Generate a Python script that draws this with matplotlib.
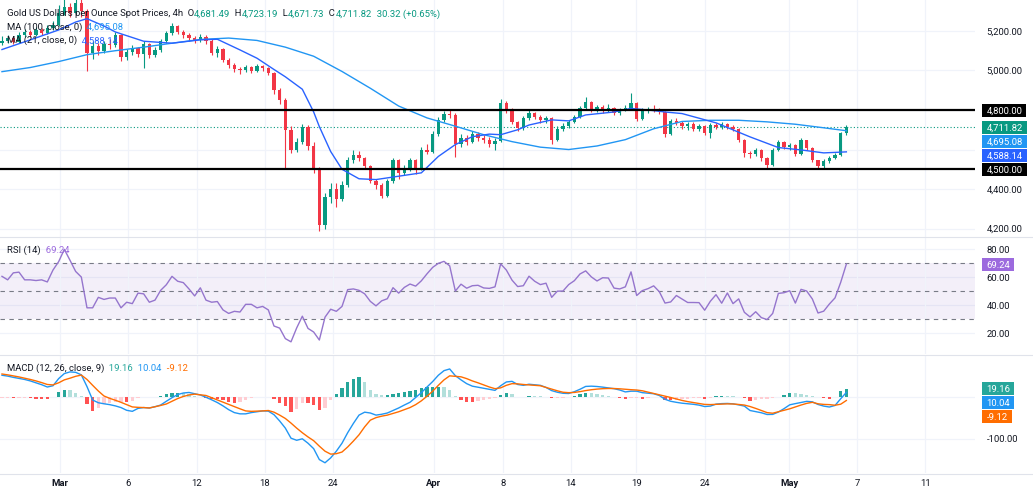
import numpy as np
import matplotlib
matplotlib.use("Agg")
import matplotlib.pyplot as plt
import matplotlib.transforms as mtransforms
from matplotlib.patches import Rectangle
from matplotlib.lines import Line2D

plt.rcParams['font.family'] = ['Roboto', 'DejaVu Sans']

# ---------------- data ----------------
first_open = 5140
close = [5150, 5165, 5145, 5180, 5195, 5180, 5205, 5190, 5215, 5230,
         5290, 5320, 5290, 5340, 5300, 5090, 5125, 5100, 5135, 5130,
         5180, 5070, 5095, 5115, 5085, 5135, 5080, 5105, 5150, 5190,
         5225, 5195, 5180, 5165, 5155, 5170, 5150, 5090, 5110, 5055,
         5030, 5005, 5000, 5020, 4995, 5025, 5010, 4985, 4900, 4850,
         4700, 4600, 4640, 4715, 4620, 4500, 4220, 4360, 4400, 4350,
         4420, 4545, 4570, 4555, 4515, 4440, 4420, 4365, 4440, 4545,
         4480, 4500, 4545, 4500, 4600, 4590, 4680, 4750, 4780, 4775,
         4630, 4660, 4640, 4680, 4660, 4650, 4630, 4645, 4835, 4800,
         4740, 4710, 4760, 4785, 4765, 4750, 4760, 4650, 4705, 4720,
         4740, 4765, 4810, 4840, 4800, 4815, 4795, 4810, 4785, 4800,
         4810, 4835, 4755, 4795, 4805, 4800, 4790, 4680, 4745, 4735,
         4720, 4730, 4705, 4720, 4685, 4725, 4715, 4730, 4715, 4705,
         4650, 4580, 4575, 4600, 4555, 4520, 4600, 4640, 4615, 4625,
         4575, 4650, 4610, 4545, 4515, 4540, 4555, 4570, 4681.49, 4711.82]
high = [5175, 5180, 5170, 5195, 5210, 5205, 5220, 5215, 5230, 5250,
        5330, 5370, 5340, 5380, 5360, 5310, 5150, 5140, 5150, 5160,
        5195, 5185, 5110, 5130, 5120, 5150, 5140, 5120, 5160, 5200,
        5240, 5230, 5205, 5190, 5175, 5185, 5180, 5160, 5125, 5115,
        5065, 5040, 5020, 5030, 5025, 5035, 5030, 5020, 4990, 4910,
        4860, 4720, 4660, 4730, 4725, 4640, 4510, 4380, 4430, 4430,
        4440, 4560, 4600, 4595, 4560, 4520, 4450, 4430, 4450, 4555,
        4550, 4520, 4555, 4550, 4615, 4630, 4695, 4765, 4795, 4800,
        4785, 4680, 4675, 4695, 4690, 4675, 4665, 4660, 4855, 4845,
        4810, 4745, 4770, 4800, 4790, 4775, 4770, 4765, 4720, 4735,
        4750, 4775, 4820, 4867, 4845, 4825, 4825, 4830, 4815, 4810,
        4825, 4885, 4840, 4810, 4815, 4825, 4810, 4795, 4755, 4760,
        4745, 4740, 4740, 4730, 4725, 4735, 4735, 4740, 4735, 4725,
        4710, 4655, 4595, 4610, 4605, 4560, 4610, 4650, 4645, 4635,
        4630, 4660, 4650, 4615, 4545, 4550, 4565, 4580, 4690, 4723.19]
low = [5130, 5140, 5135, 5140, 5170, 5170, 5175, 5180, 5185, 5205,
       5225, 5280, 5270, 5285, 5270, 4995, 5060, 5080, 5090, 5110,
       5120, 5050, 5055, 5080, 5070, 5015, 5065, 5070, 5095, 5140,
       5180, 5185, 5165, 5150, 5140, 5145, 5135, 5080, 5070, 5045,
       5015, 4990, 4980, 4990, 4985, 4990, 4995, 4975, 4880, 4830,
       4500, 4580, 4590, 4630, 4600, 4480, 4190, 4200, 4330, 4310,
       4340, 4410, 4530, 4540, 4500, 4430, 4400, 4355, 4360, 4430,
       4450, 4470, 4490, 4475, 4495, 4575, 4580, 4670, 4740, 4760,
       4560, 4615, 4625, 4635, 4645, 4635, 4615, 4600, 4640, 4785,
       4730, 4695, 4700, 4750, 4755, 4735, 4735, 4630, 4645, 4695,
       4710, 4735, 4760, 4800, 4790, 4790, 4785, 4790, 4775, 4775,
       4795, 4805, 4745, 4750, 4785, 4790, 4780, 4665, 4675, 4725,
       4705, 4700, 4695, 4695, 4675, 4660, 4705, 4705, 4705, 4695,
       4640, 4560, 4555, 4565, 4540, 4500, 4515, 4595, 4605, 4600,
       4565, 4570, 4600, 4535, 4500, 4505, 4530, 4550, 4565, 4671.73]

ma100_idx = [0, 5, 10, 15, 20, 25, 30, 35, 40, 45, 50, 55, 60, 65, 70, 75,
             80, 85, 90, 95, 100, 105, 110, 115, 120, 125, 130, 135, 140, 145, 149]
ma100 = [4994, 5015, 5045, 5080, 5100, 5118, 5138, 5157, 5164, 5152, 5118, 5072,
         4995, 4910, 4820, 4760, 4718, 4675, 4640, 4612, 4600, 4618, 4650, 4705,
         4742, 4748, 4748, 4740, 4728, 4710, 4695.08]
ma21_idx = [0, 5, 10, 13, 15, 18, 20, 25, 30, 35, 38, 42, 45, 48, 50, 53, 55, 56,
            58, 60, 63, 66, 70, 74, 77, 80, 83, 86, 88, 91, 93, 97, 100, 103, 108,
            111, 114, 117, 120, 126, 132, 137, 141, 145, 149]
ma21 = [5106, 5155, 5205, 5245, 5262, 5225, 5195, 5148, 5138, 5155, 5158, 5104,
        5062, 5005, 4968, 4905, 4790, 4716, 4590, 4500, 4452, 4448, 4465, 4482,
        4565, 4625, 4665, 4678, 4675, 4700, 4724, 4750, 4745, 4775, 4790, 4808,
        4800, 4790, 4782, 4735, 4664, 4610, 4598, 4583, 4588.14]

rsi = [60.5, 58, 63, 63.5, 58, 58, 57.5, 58, 56.5, 65,
       71, 79.8, 72, 64, 60, 38, 38, 45.5, 44, 45,
       45, 38, 42, 41, 48.5, 48, 42, 43.5, 50.5, 54.5,
       60.5, 57, 56, 51.5, 46.5, 52.3, 43.5, 42, 42.5, 36.5,
       34, 35.5, 35, 40.5, 40.5, 38, 39, 36.5, 25, 23.5,
       16, 13.7, 23.6, 32, 23.3, 20.7, 15, 31.3, 37, 35.5,
       39, 51, 51.5, 50.5, 48, 42.6, 39.4, 43, 44.5, 52.4,
       48.5, 52.6, 55, 53.5, 57.3, 62.3, 66.9, 69.8, 71.2, 68,
       50, 54.9, 52, 53.8, 54.1, 52.2, 51.9, 53, 69.4, 65,
       57.8, 53.2, 53.8, 60.6, 57, 54.6, 55.6, 45.5, 49.9, 50,
       54.6, 57.4, 62.2, 64.4, 60.1, 57.2, 59.5, 59.3, 52.1, 51.5,
       53, 63.7, 46.8, 50.3, 51.7, 53.7, 49.5, 41.4, 42.2, 46.8,
       44.3, 41.8, 41.8, 41.7, 36.3, 42.7, 47.4, 41.3, 48.6, 41,
       44.4, 34.8, 31.5, 35.2, 31, 29.6, 34, 48.3, 48.8, 50.2,
       41.4, 51.2, 50, 44.3, 34.3, 35.6, 40.7, 45.1, 56.2, 69.24]

macd = [51, 49, 46, 43.5, 41, 37.5, 33, 28.5, 23, 26,
        43, 55, 59, 58, 52, 24, -8, -14.5, -17, -19,
        -22, -26, -32.5, -35, -28, -26, -27, -24, -20, -11,
        -2.5, 5, 8.7, 10, 7, 4, -1.5, -7.5, -14, -22,
        -31, -38, -41, -41, -38, -36, -34, -34.5, -43, -58,
        -75, -99, -104, -100.5, -111, -124, -150, -157.6, -146, -130,
        -111, -86, -64, -44, -37, -39, -44, -42, -39, -33,
        -27, -20, -13.4, -2, 9.5, 23, 36, 51, 62, 66,
        50, 40, 31, 25, 22.5, 20, 17.5, 15, 26, 35,
        36.5, 29, 27, 29.6, 28.4, 27, 22, 14.4, 10.5, 8,
        7.5, 11.8, 17.6, 24.4, 25, 24.2, 22.7, 20.9, 19, 15.9,
        11.3, 13, 13, 9.5, 8.3, 7, 2.7, -6.3, -11, -13.5,
        -15.6, -17, -18.2, -20.2, -23.6, -22.5, -17.8, -16.6, -16.2, -17.1,
        -19.6, -22.5, -33, -35.7, -38.4, -42.5, -42.3, -36.7, -28.6, -19.5,
        -16.6, -14, -11.2, -12.3, -18.6, -22.5, -24.7, -21, -5, 10.04]
signal = [54, 52, 49.5, 47, 44, 41, 37.5, 33.5, 29, 28,
          33, 40, 44, 48.5, 51.5, 41, 27, 13.5, 1.6, -4,
          -8.5, -13.5, -19, -24.5, -25.5, -26, -27, -24, -21, -17.5,
          -11, -4.5, 0.5, 4, 6, 4.5, 2.8, -2.5, -8, -13,
          -18.5, -23.5, -29, -34, -35, -34.5, -34, -33, -37, -44,
          -52, -63, -75, -86, -96, -105, -118, -130, -137, -136,
          -132, -120, -106, -91, -72, -56, -50, -46.5, -44, -40,
          -36, -31, -26, -19, -10, 1, 13, 27, 40, 49.6,
          48.5, 47.3, 43, 37.5, 33, 28, 23, 19, 21, 27,
          31, 30.5, 29, 28, 27, 26, 22, 18, 14, 10.5,
          9.5, 10, 12, 14.5, 16.5, 18, 19, 19.5, 19.4, 18.7,
          17.6, 16.6, 15.8, 14, 10.8, 7.8, 4.5, 1.3, -2, -5.5,
          -9, -11.8, -14, -16, -18.5, -18.9, -18.3, -17.8, -17.2, -17.5,
          -18.6, -20, -23.5, -28, -33, -38, -39.5, -36, -32.5, -29,
          -24.5, -20, -16, -13.5, -17, -18.5, -19, -20.5, -18, -9.12]

date_labels = ["Mar", "6", "12", "18", "24", "Apr", "8", "14", "19", "24", "May", "7", "11"]
month_labels = ["Mar", "Apr", "May"]
date_pos = [10.3, 22.2, 34.4, 46.4, 58.4, 76.2, 88.4, 100.4, 111.9, 124.1, 138.9, 150.9, 162.9]

price_levels = [4800, 4500]
price_grid = [4200, 4400, 4600, 4800, 5000, 5200]
price_axis_labels = [5200, 5000, 4400, 4200]
rsi_grid = [20, 40, 60, 80]
rsi_bands = [70, 50, 30]
macd_grid = [0, -100]
macd_axis_labels = [-100]

title = "Gold US Dollars per Ounce Spot Prices, 4h"
ohlc_change = (30.32, 0.65)

# ---------------- style ----------------
W, H = 1033, 496
PLOT_W = 975
UP, DOWN = '#089981', '#F23645'
DARK = '#131722'
GRID = '#f0f3fa'
MA100_C, MA21_C = '#2196F3', '#2962FF'
RSI_C = '#7E57C2'
MACD_C, SIG_C = '#2196F3', '#FF6D00'
FS = 6.8

fig = plt.figure(figsize=(W / 100, H / 100), dpi=100)
fig.patch.set_facecolor('white')

n = len(close)
idx = np.arange(n)


def panel(top, bottom, ylim):
    ax = fig.add_axes([0, 1 - bottom / H, PLOT_W / W, (bottom - top) / H])
    ax.set_xlim(-0.35, 171.7)
    ax.set_ylim(*ylim)
    for s in ax.spines.values():
        s.set_visible(False)
    ax.set_yticks([])
    ax.set_xticks(date_pos)
    ax.tick_params(axis='x', length=0, labelbottom=False)
    ax.grid(axis='x', color=GRID, lw=0.9)
    ax.set_axisbelow(True)
    return ax


ax1 = panel(0, 237, (4157.4, 5356.6))
ax2 = panel(238, 354, (5.0, 87.9))
ax3 = panel(355, 473, (-182.0, 99.3))

# ---- price panel ----
for g in price_grid:
    ax1.axhline(g, color=GRID, lw=0.9, zorder=0)
o = np.array([first_open] + close[:-1])
c = np.array(close)
cols = np.where(c >= o, UP, DOWN)
ax1.vlines(idx, low, high, colors=cols, lw=0.8, zorder=2)
ax1.bar(idx, np.maximum(np.abs(c - o), 2.0), bottom=np.minimum(o, c), width=0.6,
        color=cols, lw=0, zorder=3)
ax1.plot(ma100_idx, ma100, color=MA100_C, lw=1.0, zorder=4)
ax1.plot(ma21_idx, ma21, color=MA21_C, lw=1.0, zorder=4)
for lv in price_levels:
    ax1.axhline(lv, color='#000000', lw=1.6, zorder=5)
ax1.axhline(close[-1], color=UP, lw=0.8, ls=(0, (1, 2)), zorder=1)

# ---- RSI panel ----
for g in rsi_grid:
    ax2.axhline(g, color=GRID, lw=0.9, zorder=0)
ax2.axhspan(rsi_bands[2], rsi_bands[0], color=RSI_C, alpha=0.09, lw=0, zorder=0)
for b in rsi_bands:
    ax2.axhline(b, color='#787B86', lw=0.8, ls=(0, (4, 4)), zorder=1)
ax2.plot(idx, rsi, color='#9575CD', lw=1.0, zorder=3)

# ---- MACD panel ----
for g in macd_grid:
    ax3.axhline(g, color=GRID, lw=0.9, zorder=0)
m = np.array(macd)
s = np.array(signal)
hist = m - s
hcols = []
for i, h in enumerate(hist):
    prev = hist[i - 1] if i > 0 else h
    if h >= 0:
        hcols.append('#26A69A' if h > prev else '#B2DFDB')
    else:
        hcols.append('#FF5252' if h < prev else '#FFCDD2')
ax3.bar(idx, hist, width=0.6, color=hcols, lw=0, zorder=2)
ax3.plot(idx, m, color=MACD_C, lw=1.0, zorder=3)
ax3.plot(idx, s, color=SIG_C, lw=1.0, zorder=3)

# ---- date axis ----
for lab, p in zip(date_labels, date_pos):
    xd = ax3.transData.transform((p, 0))[0]
    fig.text(xd / W, 1 - 484 / H, lab, ha='center', va='center', fontsize=FS,
             color=DARK, fontweight='bold' if lab in month_labels else 'normal')

# ---- panel separators ----
for ypx in (237.5, 354.5, 473.5):
    fig.add_artist(Line2D([0, 1], [1 - ypx / H] * 2, color='#e0e3eb', lw=0.8,
                          transform=fig.transFigure))

# ---- right scale labels ----
boxes = []


def ypx_of(ax, v):
    return H - ax.transData.transform((0, v))[1]


def rlabel(ypx, txt, fc=None):
    t = fig.text(986.5 / W, 1 - ypx / H, txt, ha='left', va='center_baseline',
                 fontsize=FS, color='white' if fc else DARK, zorder=21)
    if fc:
        boxes.append((t, ypx, fc))


def stacked(ax, items):
    items = sorted(items, key=lambda it: -it[0])
    last = -1e9
    for v, fc in items:
        y = max(ypx_of(ax, v), last + 14)
        rlabel(y, f"{v:,.2f}", fc)
        last = y


for v in price_axis_labels:
    rlabel(ypx_of(ax1, v), f"{v:,.2f}")
stacked(ax1, [(price_levels[0], '#000000'), (close[-1], UP), (ma100[-1], MA100_C),
              (ma21[-1], MA21_C), (price_levels[1], '#000000')])
for v in rsi_grid:
    if v != 80 or True:
        rlabel(ypx_of(ax2, v), f"{v:,.2f}")
stacked(ax2, [(rsi[-1], '#9C6ADE')])
for v in macd_axis_labels:
    rlabel(ypx_of(ax3, v), f"{v:,.2f}")
stacked(ax3, [(hist[-1], '#26A69A'), (macd[-1], MACD_C), (signal[-1], SIG_C)])

# ---- legends ----
legends = []


def legend(xpx, ypx, segs):
    ts = [fig.text(xpx / W, 1 - ypx / H, sg, color=col, fontsize=FS, ha='left',
                   va='baseline', zorder=30) for sg, col in segs]
    legends.append((xpx, ts))


o_last = first_open if n == 1 else close[-2]
legend(7, 16.5, [(title, DARK), ("  O", DARK), (f"{o_last:,.2f}", UP),
                 ("  H", DARK), (f"{high[-1]:,.2f}", UP),
                 ("  L", DARK), (f"{low[-1]:,.2f}", UP),
                 ("  C", DARK), (f"{close[-1]:,.2f}", UP),
                 (f"  {ohlc_change[0]:.2f} (+{ohlc_change[1]:.2f}%)", UP)])
legend(7, 30.0, [("MA (100, close, 0)", DARK), (f"  {ma100[-1]:,.2f}", MA100_C)])
legend(7, 43.3, [("MA (21, close, 0)", DARK), (f"  {ma21[-1]:,.2f}", MA21_C)])
legend(7, 252.7, [("RSI (14)", DARK), (f"  {rsi[-1]:.2f}", '#9C6ADE')])
legend(7, 370.7, [("MACD (12, 26, close, 9)", DARK), (f"  {hist[-1]:.2f}", '#26A69A'),
                  (f"  {macd[-1]:.2f}", MACD_C), (f"  {signal[-1]:.2f}", SIG_C)])

fig.canvas.draw()
r = fig.canvas.get_renderer()
for xpx, ts in legends:
    x = xpx
    for t in ts:
        t.set_x(x / W)
        x += t.get_window_extent(r).width

for t, ypx, fc in boxes:
    bb = t.get_window_extent(r)
    rect = Rectangle((bb.x0 - 4, H - ypx - 6.5), bb.width + 8, 13,
                     transform=mtransforms.IdentityTransform(), facecolor=fc,
                     edgecolor='none', zorder=20)
    fig.add_artist(rect)

fig.savefig('out.png', dpi=100, facecolor='white')
